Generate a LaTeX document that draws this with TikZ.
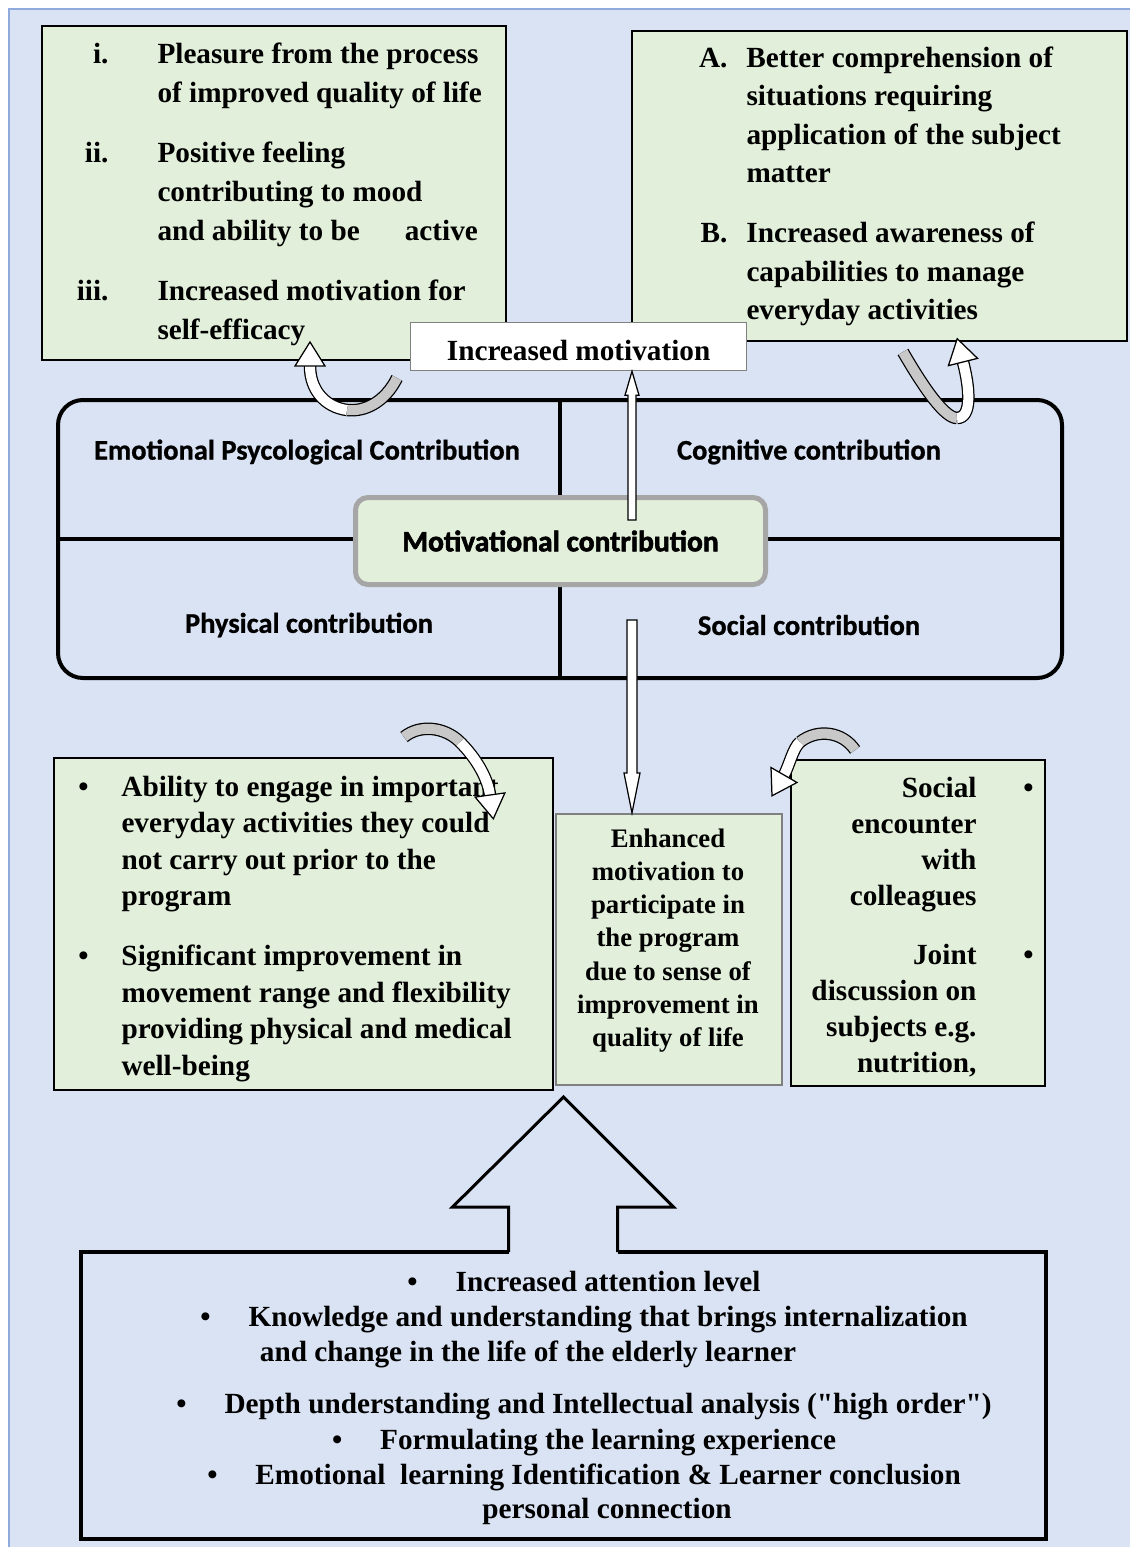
\documentclass[tikz,border=0pt]{standalone}
\usepackage{fontspec}
\setmainfont{Liberation Serif}
\newfontfamily\qfont{Liberation Serif}
\newfontfamily\calfont{Carlito}[BoldFeatures={FakeBold=0.8}]
\newfontfamily\calheavy{Carlito}[BoldFeatures={FakeBold=2}]
\usetikzlibrary{calc}

\definecolor{bgblue}{HTML}{DAE3F3}
\definecolor{bordblue}{HTML}{8FAADC}
\definecolor{boxgreen}{HTML}{E2EFDA}
\definecolor{bandgray}{HTML}{C8C8C8}
\definecolor{motgray}{HTML}{A6A6A6}

% label hanging to the left of a list line
\newcommand\lbl[2]{\llap{#2\hspace{#1}}}
% straight double quote
\newcommand\dq{{\qfont"}}
% head of a curved block arrow
\newcommand\bandhead[2]{\draw[fill=white,line width=0.5pt,shift={#1},rotate=#2] (0,-15) -- (24,0) -- (0,15) -- cycle;}

\begin{document}
\begin{tikzpicture}[x=0.4pt,y=-0.4pt,
  box/.style={draw,line width=0.6pt,fill=boxgreen,anchor=north west,inner sep=0},
  txt/.style={inner sep=0,font=\bfseries\fontsize{11.7}{15.6}\selectfont},
  quad/.style={font=\calfont\bfseries\fontsize{11.4}{14}\selectfont},
  band/.style={line width=0.5pt,double distance=4pt},
  hollow/.style={draw,fill=white,line width=0.5pt,line join=miter}]
\useasboundingbox (0,0) rectangle (1130,1547);
\fill[white] (0,0) rectangle (1130,1547);
\fill[bgblue] (9,9) rectangle (1130,1547);
\draw[bordblue,line width=0.8pt] (9,1547) -- (9,9) -- (1130,9);

% upper boxes
\node[box,minimum width=185.6pt,minimum height=133.6pt] (emobox) at (41,25) {};
\node[txt,anchor=base west] (emotxt) at (157,63) {\begin{tabular}[t]{@{}l@{}}
\lbl{19.6pt}{i.}Pleasure from the process\\
of improved quality of life\\[8.4pt]
\lbl{19.6pt}{ii.}Positive feeling\\
contributing to mood\\
and ability to be\hspace{18pt}active\\[8.4pt]
\lbl{19.6pt}{iii.}Increased motivation for\\
self-efficacy
\end{tabular}};

\node[box,minimum width=198pt,minimum height=124pt] (cogbox) at (631,30) {};
\node[txt,anchor=base west,font=\bfseries\fontsize{11.7}{15.4}\selectfont] (cogtxt) at (746,67) {\begin{tabular}[t]{@{}l@{}}
\lbl{7.6pt}{A.}Better comprehension of\\
situations requiring\\
application of the subject\\
matter\\[8.6pt]
\lbl{7.6pt}{B.}Increased awareness of\\
capabilities to manage\\
everyday activities
\end{tabular}};

\node[draw=gray,line width=0.5pt,fill=white,minimum width=134.4pt,minimum height=19.2pt,text height=11pt,anchor=north west,inner sep=0,font=\bfseries\fontsize{11.7}{14}\selectfont] (incm) at (410,322) {Increased motivation};

% the four contributions
\node[draw,line width=1.6pt,rounded corners=10pt,minimum width=401.6pt,minimum height=111.2pt,anchor=north west,inner sep=0] (frame) at (56,398) {};
\draw[line width=1.6pt] (frame.north) -- (frame.south) (frame.west) -- (frame.east);
\node[quad] (emo) at (307,452) {Emotional Psycological Contribution};
\node[quad] (cog) at (809,452) {Cognitive contribution};
\node[quad] (phy) at (309,625) {Physical contribution};
\node[quad] (soc) at (809,625) {Social contribution};
\node[draw=motgray,line width=2pt,fill=boxgreen,rounded corners=5pt,minimum width=164pt,minimum height=34.8pt,anchor=north west,inner sep=0,font=\calheavy\bfseries\fontsize{11.8}{14}\selectfont] (mot) at (353,495) {Motivational contribution};

% lower boxes
\node[box,minimum width=199.6pt,minimum height=132.8pt] (phybox) at (53,757) {};
\node[txt,anchor=base west,font=\bfseries\fontsize{11.7}{14.6}\selectfont] (phytxt) at (121,796) {\begin{tabular}[t]{@{}l@{}}
\lbl{13.2pt}{\textbullet}Ability to engage in important\\
everyday activities they could\\
not carry out prior to the\\
program\\[9.4pt]
\lbl{13.2pt}{\textbullet}Significant improvement in\\
movement range and flexibility\\
providing physical and medical\\
well-being
\end{tabular}};

\node[box,draw=gray,minimum width=90.4pt,minimum height=108.4pt] (cen) at (555,813) {};
\node[txt,anchor=base,font=\bfseries\fontsize{10.7}{13.3}\selectfont] (centxt) at (668,847) {\begin{tabular}[t]{@{}c@{}}
Enhanced\\
motivation to\\
participate in\\
the program\\
due to sense of\\
improvement in\\
quality of life
\end{tabular}};

\node[box,minimum width=101.6pt,minimum height=130.4pt] (socbox) at (790,759) {};
\node[txt,anchor=base east,font=\bfseries\fontsize{11.7}{14.4}\selectfont] (soctxt) at (977,797) {\begin{tabular}[t]{@{}r@{}}
Social\rlap{\hspace{18.8pt}\textbullet}\hspace{3.6pt}\\
encounter\\
with\\
colleagues\\[9.2pt]
Joint\rlap{\hspace{18.8pt}\textbullet}\hspace{3.6pt}\\
discussion on\\
subjects e.g.\\
nutrition,
\end{tabular}};

% straight hollow arrows
\coordinate (arrx) at (632,0);
\draw[hollow] ($(mot.north -| arrx)+(-4,25)$) -- ($(incm.south -| arrx)+(-4,24)$) -- ++(-3,0) -- (incm.south -| arrx) -- ++(7,24) -- ++(-3,0) -- ($(mot.north -| arrx)+(4,25)$) -- cycle;
\coordinate (dtop) at (632,620);
\draw[hollow] ($(dtop)+(-5,0)$) -- ($(cen.north -| dtop)+(-5,-40)$) -- ++(-3,0) -- (cen.north -| dtop) -- ++(8,-40) -- ++(-3,0) -- ($(dtop)+(5,0)$) -- cycle;

% bottom box with the big arrow
\node[minimum width=385.6pt,minimum height=114.4pt,anchor=north west,inner sep=0] (bot) at (81,1252) {};
\draw[line width=1.6pt] ($(bot.north)+(-55,0)$) -- (bot.north west) -- (bot.south west) -- (bot.south east) -- (bot.north east) -- ($(bot.north)+(54,0)$);
\draw[line width=1.2pt,line join=miter] ($(bot.north)+(-55,0)$) -- ++(0,-45) -- ++(-56,0) -- ($(bot.north)+(0,-155)$) -- ($(bot.north)+(110,-45)$) -- ++(-56,0) -- ($(bot.north)+(54,0)$);
\node[txt,anchor=base] (b1) at (584,1291) {\textbullet\hspace{15.2pt}Increased attention level};
\node[txt,anchor=base] (b2) at (584,1326) {\textbullet\hspace{15.2pt}Knowledge and understanding that brings internalization};
\node[txt,anchor=base] (b3) at (528,1361) {and change in the life of the elderly learner};
\node[txt,anchor=base] (b4) at (584,1413) {\textbullet\hspace{15.2pt}Depth understanding and Intellectual analysis (\dq high order\dq)};
\node[txt,anchor=base] (b5) at (584,1449) {\textbullet\hspace{15.2pt}Formulating the learning experience};
\node[txt,anchor=base] (b6) at (584,1484) {\textbullet\hspace{15.2pt}Emotional\ \ learning Identification \& Learner conclusion};
\node[txt,anchor=base] (b7) at (607,1518) {personal connection};

% curved arrows
\draw[band,double=bandgray] (397,378) .. controls (385,402) and (365,412) .. (347,410);
\draw[band,double=white] (347,410) .. controls (325,407) and (310,390) .. (310,366);
\bandhead{(310,366)}{90}
\draw[band,double=bandgray] (903,352) .. controls (925,390) and (945,418) .. (957,418);
\draw[band,double=white] (957,418) .. controls (972,418) and (970,389) .. (963,362);
\bandhead{(963,362)}{104}
\draw[band,double=bandgray] (404,737) .. controls (420,724) and (445,727) .. (460,742);
\draw[band,double=white] (460,742) .. controls (478,760) and (488,780) .. (490,795);
\bandhead{(490,795)}{-82}
\draw[band,double=bandgray] (855,750) .. controls (843,732) and (818,728) .. (800,742);
\draw[band,double=white] (800,742) .. controls (793,748) and (789,766) .. (784,775);
\bandhead{(784,775)}{240}
\end{tikzpicture}
\end{document}
